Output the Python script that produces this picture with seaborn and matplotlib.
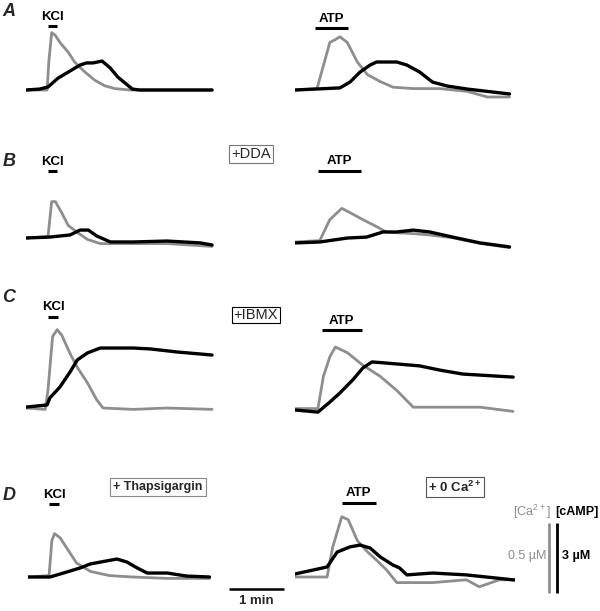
import matplotlib
matplotlib.use('Agg')
import matplotlib.pyplot as plt
import matplotlib.transforms as mtransforms
import seaborn as sns

sns.set_theme(style='white')
plt.rcParams['font.family'] = ['Liberation Sans', 'DejaVu Sans']
plt.rcParams['mathtext.fontset'] = 'custom'
plt.rcParams['mathtext.rm'] = 'Liberation Sans'
plt.rcParams['mathtext.bf'] = 'Liberation Sans:bold'

# ---- traces: time (s), delta [Ca2+] (uM, gray), delta [cAMP] (uM, black) ----
# A: control
t_ca_A_kcl = [0, 23, 25, 28, 32, 37, 46, 53, 64, 75, 86, 97, 113, 135, 203]
ca_A_kcl = [0, 0, 0.21, 0.41, 0.39, 0.34, 0.27, 0.20, 0.13, 0.07, 0.03, 0.01, 0, 0, 0]
t_camp_A_kcl = [0, 15, 24, 35, 50, 59, 66, 73, 83, 92, 100, 108, 116, 124, 203]
camp_A_kcl = [0, 0.04, 0.13, 0.51, 0.86, 1.07, 1.16, 1.16, 1.24, 0.94, 0.56, 0.30, 0.04, 0, 0]
t_ca_A_atp = [0, 24, 38, 44, 49, 57, 68, 79, 93, 107, 129, 158, 188, 210, 234]
ca_A_atp = [0, 0.01, 0.34, 0.36, 0.38, 0.34, 0.20, 0.11, 0.06, 0.02, 0.01, 0.01, -0.01, -0.05, -0.05]
t_camp_A_atp = [0, 49, 60, 71, 82, 89, 111, 122, 136, 150, 166, 188, 234]
camp_A_atp = [0, 0.09, 0.34, 0.77, 1.07, 1.2, 1.2, 1.07, 0.77, 0.34, 0.17, 0.04, -0.17]

# B: +DDA
t_ca_B_kcl = [0, 24, 28, 32, 39, 46, 56, 67, 81, 117, 154, 203]
ca_B_kcl = [0, 0.01, 0.26, 0.26, 0.18, 0.09, 0.04, -0.01, -0.04, -0.04, -0.04, -0.06]
t_camp_B_kcl = [0, 26, 48, 59, 68, 77, 92, 117, 154, 190, 203]
camp_B_kcl = [0, 0.04, 0.13, 0.34, 0.34, 0.09, -0.17, -0.17, -0.13, -0.21, -0.3]
t_ca_B_atp = [0, 27, 38, 51, 60, 74, 89, 100, 129, 147, 172, 202, 234]
ca_B_atp = [0, 0.01, 0.16, 0.24, 0.21, 0.16, 0.11, 0.07, 0.06, 0.05, 0.03, -0.01, -0.04]
t_camp_B_atp = [0, 27, 57, 78, 96, 111, 129, 147, 172, 202, 234]
camp_B_atp = [-0.04, 0, 0.17, 0.21, 0.43, 0.43, 0.51, 0.43, 0.21, -0.04, -0.21]

# C: +IBMX
t_ca_C_kcl = [0, 21, 24, 29, 34, 39, 48, 56, 67, 77, 84, 117, 154, 203]
ca_C_kcl = [0, -0.01, 0.13, 0.51, 0.56, 0.52, 0.39, 0.29, 0.18, 0.06, 0, -0.01, 0, -0.01]
t_camp_C_kcl = [0, 23, 26, 37, 48, 56, 67, 81, 117, 136, 165, 203]
camp_C_kcl = [0.04, 0.13, 0.43, 0.9, 1.54, 2.06, 2.36, 2.57, 2.57, 2.53, 2.4, 2.27]
t_ca_C_atp = [0, 25, 31, 38, 44, 57, 74, 93, 111, 129, 166, 202, 238]
ca_C_atp = [0.01, 0.01, 0.24, 0.38, 0.45, 0.41, 0.32, 0.24, 0.14, 0.02, 0.02, 0.02, -0.01]
t_camp_C_atp = [0, 25, 38, 49, 63, 74, 84, 100, 136, 158, 183, 238]
camp_C_atp = [0, -0.09, 0.34, 0.73, 1.29, 1.8, 2.06, 2.01, 1.89, 1.71, 1.54, 1.41]

# D: + Thapsigargin (KCl) / + 0 Ca2+ (ATP)
t_ca_D_kcl = [0, 23, 26, 29, 35, 44, 53, 68, 89, 114, 152, 198]
ca_D_kcl = [0, 0.01, 0.26, 0.31, 0.28, 0.19, 0.1, 0.04, 0.01, 0, -0.01, -0.01]
t_camp_D_kcl = [0, 24, 42, 57, 68, 79, 97, 108, 119, 130, 152, 173, 198]
camp_D_kcl = [0, 0, 0.21, 0.39, 0.56, 0.64, 0.77, 0.64, 0.39, 0.17, 0.17, 0.04, 0]
t_ca_D_atp = [0, 35, 41, 51, 58, 68, 79, 89, 100, 111, 150, 187, 201, 223, 240]
ca_D_atp = [0, 0, 0.21, 0.43, 0.41, 0.26, 0.18, 0.12, 0.05, -0.04, -0.04, -0.02, -0.07, -0.02, -0.02]
t_camp_D_atp = [0, 35, 46, 60, 71, 82, 93, 107, 114, 122, 150, 187, 240]
camp_D_atp = [0.13, 0.43, 1.07, 1.29, 1.37, 1.24, 0.86, 0.51, 0.39, 0.09, 0.17, 0.09, -0.13]

# stimulus windows (s)
kcl_on = {'A': (24, 34), 'B': (24, 34), 'C': (24, 35), 'D': (23, 34)}
atp_on = {'A': (22, 58), 'B': (25, 72), 'C': (29, 73), 'D': (51, 88)}

scale_ca = 0.5    # uM
scale_camp = 3    # uM
scale_time = 60   # s

GRAY = '#8e8e8e'
W, H = 600, 611
PX_S = 220 / 240        # px per second
PX_CA = 140             # px per uM Ca
PX_CAMP = 70 / 3        # px per uM cAMP

fig = plt.figure(figsize=(W / 100, H / 100), dpi=100)


def fx(x):
    return x / W


def fy(y):
    return 1 - y / H


def trace_axes(x0, base):
    # axes spanning 100 px above the baseline and 15 px below
    ax = fig.add_axes([fx(x0), fy(base + 15), 220 / W, 115 / H])
    ax.set_xlim(0, 240)
    ax.set_ylim(-15 / PX_CA, 100 / PX_CA)
    ax.axis('off')
    ax2 = ax.twinx()
    ax2.set_xlim(0, 240)
    ax2.set_ylim(-15 / PX_CAMP, 100 / PX_CAMP)
    ax2.axis('off')
    return ax, ax2


def stim(ax, base, on, bar_y, label):
    tr = mtransforms.blended_transform_factory(ax.transData, ax.transAxes)
    yb = (base + 15 - bar_y) / 115
    ax.plot(on, [yb, yb], color='black', lw=2.2, transform=tr, clip_on=False,
            solid_capstyle='butt')
    yl = (base + 15 - (bar_y - 9.5)) / 115
    ax.text((on[0] + on[1]) / 2, yl, label, transform=tr, ha='center', va='center',
            fontsize=9.5, fontweight='bold', color='black')


panels = [
    # row, x0, base, Ca (t, v), cAMP (t, v), stim, bar y, label
    ('A', 26, 90, t_ca_A_kcl, ca_A_kcl, t_camp_A_kcl, camp_A_kcl, kcl_on['A'], 26, 'KCl'),
    ('A', 295, 90, t_ca_A_atp, ca_A_atp, t_camp_A_atp, camp_A_atp, atp_on['A'], 28, 'ATP'),
    ('B', 26, 238, t_ca_B_kcl, ca_B_kcl, t_camp_B_kcl, camp_B_kcl, kcl_on['B'], 171, 'KCl'),
    ('B', 295, 242, t_ca_B_atp, ca_B_atp, t_camp_B_atp, camp_B_atp, atp_on['B'], 171, 'ATP'),
    ('C', 26, 408, t_ca_C_kcl, ca_C_kcl, t_camp_C_kcl, camp_C_kcl, kcl_on['C'], 317, 'KCl'),
    ('C', 295, 410, t_ca_C_atp, ca_C_atp, t_camp_C_atp, camp_C_atp, atp_on['C'], 330, 'ATP'),
    ('D', 28, 577, t_ca_D_kcl, ca_D_kcl, t_camp_D_kcl, camp_D_kcl, kcl_on['D'], 504, 'KCl'),
    ('D', 295, 577, t_ca_D_atp, ca_D_atp, t_camp_D_atp, camp_D_atp, atp_on['D'], 503, 'ATP'),
]

axes = {}
for row, x0, base, tca, vca, tcamp, vcamp, on, bar_y, lab in panels:
    ax, ax2 = trace_axes(x0, base)
    sns.lineplot(x=tca, y=vca, ax=ax, color=GRAY, lw=2.0, estimator=None)
    sns.lineplot(x=tcamp, y=vcamp, ax=ax2, color='black', lw=2.4, estimator=None)
    stim(ax, base, on, bar_y, lab)
    axes[(row, x0)] = ax

# panel letters
for lab, y in [('A', 12), ('B', 162), ('C', 297), ('D', 495)]:
    fig.text(fx(9), fy(y), lab, fontsize=13, fontweight='bold', style='italic',
             ha='center', va='center')

# condition boxes
fig.text(fx(251), fy(154), '+DDA', fontsize=10.5, ha='center', va='center',
         bbox=dict(boxstyle='square,pad=0.15', fc='white', ec='#777777', lw=0.8))
fig.text(fx(256), fy(315), '+IBMX', fontsize=10.5, ha='center', va='center',
         bbox=dict(boxstyle='square,pad=0.1', fc='white', ec='black', lw=0.8))
fig.text(fx(158), fy(487), '+ Thapsigargin', fontsize=9, fontweight='bold',
         ha='center', va='center',
         bbox=dict(boxstyle='square,pad=0.25', fc='white', ec='#888888', lw=0.8))
fig.text(fx(455), fy(487), r'+ 0 Ca$^{\mathregular{2+}}$', fontsize=9.5, fontweight='bold',
         ha='center', va='center',
         bbox=dict(boxstyle='square,pad=0.2', fc='white', ec='#555555', lw=0.8))

# time scale bar in panel D left
axD = axes[('D', 28)]
trD = mtransforms.blended_transform_factory(axD.transData, axD.transAxes)
t_bar0 = (229 - 28) / PX_S
ybar = (577 + 15 - 589) / 115
axD.plot([t_bar0, t_bar0 + scale_time], [ybar, ybar], color='black', lw=1.8,
         transform=trD, clip_on=False, solid_capstyle='butt')
fig.text(fx(256), fy(601), '1 min', fontsize=9.5, fontweight='bold',
         ha='center', va='center')

# concentration scale bars
sax = fig.add_axes([fx(540), fy(577 + 15), 30 / W, 115 / H])
sax.set_xlim(0, 30)
sax.set_ylim(-15 / PX_CA, 100 / PX_CA)
sax.axis('off')
sax2 = sax.twinx()
sax2.set_xlim(0, 30)
sax2.set_ylim(-15 / PX_CAMP, 100 / PX_CAMP)
sax2.axis('off')
y0_ca = -16 / PX_CA
y0_camp = -16 / PX_CAMP
sax.vlines(9, y0_ca, y0_ca + scale_ca, color=GRAY, lw=2, clip_on=False)
sax2.vlines(17, y0_camp, y0_camp + scale_camp, color='black', lw=2, clip_on=False)

fig.text(fx(551), fy(512), r'[Ca$^{\mathregular{2+}}$]', fontsize=9, color=GRAY,
         ha='right', va='center')
fig.text(fx(555), fy(512), '[cAMP]', fontsize=9, fontweight='bold',
         color='black', ha='left', va='center')
fig.text(fx(546), fy(556), '0.5 µM', fontsize=9, color=GRAY,
         ha='right', va='center')
fig.text(fx(562), fy(556), '3 µM', fontsize=9, fontweight='bold',
         color='black', ha='left', va='center')

fig.savefig('out.png', dpi=100, facecolor='white')
